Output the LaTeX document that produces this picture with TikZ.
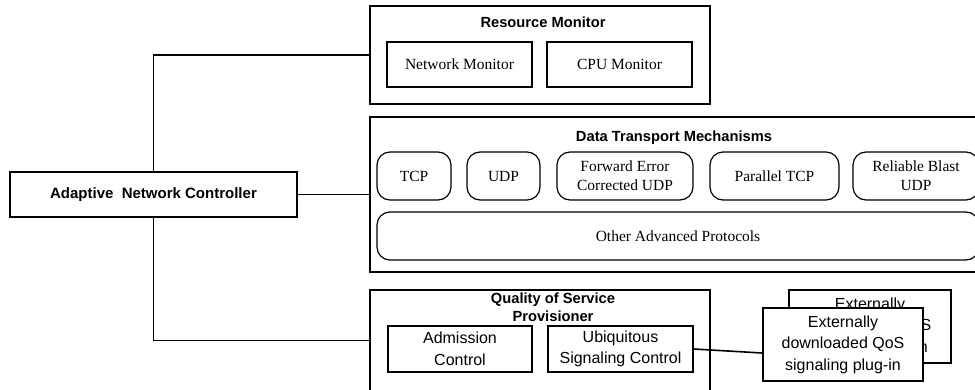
\documentclass[tikz,border=0pt]{standalone}
\usepackage{fontspec}
\setmainfont{Liberation Serif}
\setsansfont{Liberation Sans}
\usetikzlibrary{positioning}

\begin{document}
\begin{tikzpicture}[
      x=1pt,y=-1pt,
      outer/.style={draw,line width=1.6pt,inner sep=0pt},
      inbox/.style={draw,line width=1.6pt,inner sep=0pt,align=center,minimum width=145pt,minimum height=45pt,font=\fontsize{15.5}{19}\selectfont},
      proto/.style={draw,line width=1.2pt,rounded corners=13pt,inner sep=0pt,align=center,minimum height=48pt,font=\fontsize{15.5}{19}\selectfont},
      qbox/.style={draw,line width=1.6pt,fill=white,inner sep=0pt,align=center,font=\sffamily\fontsize{16}{21.5}\selectfont},
      title/.style={inner sep=0pt,align=center,font=\sffamily\bfseries\fontsize{14.7}{18}\selectfont},
      link/.style={line width=1.6pt}
    ]
      \useasboundingbox (0,0) rectangle (975,389);
      % controller
      \node[outer,minimum width=287pt,minimum height=45pt,font=\sffamily\bfseries\fontsize{15}{18}\selectfont] (anc) at (153.5,194.5) {Adaptive\ \ Network Controller};
      % resource monitor
      \node[outer,minimum width=340pt,minimum height=98pt] (rm) at (540,55) {};
      \node[title,anchor=base] (rmtitle) at (543,27) {Resource Monitor};
      \node[inbox] (netmon) at (459.5,64.5) {Network Monitor};
      \node[inbox] (cpumon) at (619.5,64.5) {CPU Monitor};
      % data transport
      \node[outer,minimum width=620pt,minimum height=155pt] (dtm) at (680,194.5) {};
      \node[title,anchor=base] (dtmtitle) at (674,141) {Data Transport Mechanisms};
      \node[proto,minimum width=74pt] (tcp) at (414,176) {TCP};
      \node[proto,minimum width=73pt] (udp) at (503.5,176) {UDP};
      \node[proto,minimum width=136pt] (fec) at (625,176) {Forward Error\\Corrected UDP};
      \node[proto,minimum width=129pt] (ptcp) at (774.5,176) {Parallel TCP};
      \node[proto,minimum width=126pt] (rbu) at (916,176) {Reliable Blast\\UDP};
      \node[proto,minimum width=602pt] (other) at (678,236) {Other Advanced Protocols};
      % qos
      \node[outer,minimum width=340pt,minimum height=101pt] (qos) at (540,340.5) {};
      \node[title,anchor=north] (qostitle) at (553,293) {Quality of Service\\Provisioner};
      \node[qbox,minimum width=144pt,minimum height=46pt] (adm) at (460,349) {Admission\\Control};
      \node[qbox,minimum width=145pt,minimum height=46pt] (ubi) at (620.5,349) {Ubiquitous\\Signaling Control};
      \node[qbox,minimum width=162pt,minimum height=73pt] (plugback) at (870,326.5) {Externally\\downloaded QoS\\signaling plug-in};
      \node[qbox,minimum width=160pt,minimum height=73pt] (plugfront) at (843,344.5) {Externally\\downloaded QoS\\signaling plug-in};
      % links
      \draw[link] (anc.north) |- (rm.west);
      \draw[link] (anc.east) -- (anc.east -| dtm.west);
      \draw[link] (anc.south) |- (qos.west);
      \draw[link] (ubi.east) -- ([yshift=-8.5pt]plugfront.west);
    \end{tikzpicture}
\end{document}
